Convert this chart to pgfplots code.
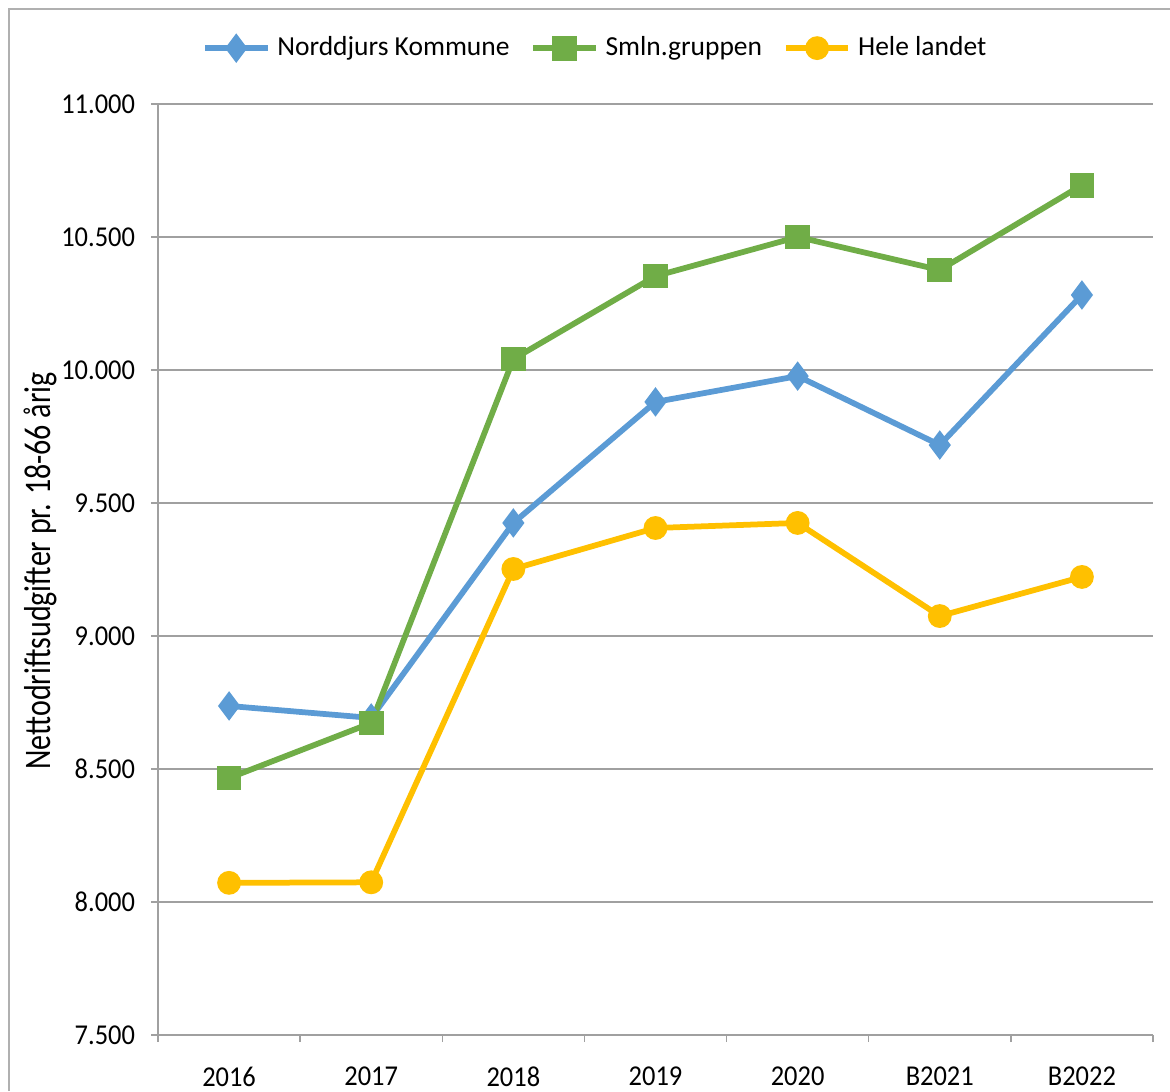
\documentclass[border=0pt]{standalone}
\usepackage{pgfplots}
\pgfplotsset{compat=1.18}
\usepackage{fontspec}
\setmainfont{Carlito}
\definecolor{cblue}{HTML}{5B9BD5}
\definecolor{cgreen}{HTML}{70AD47}
\definecolor{cgold}{HTML}{FFC000}
\definecolor{cgrid}{HTML}{A0A0A0}
\definecolor{cframe}{HTML}{B0B0B0}
\begin{document}
\begin{tikzpicture}[x=1pt,y=1pt]
\useasboundingbox (0,0) rectangle (468,436.4);
\draw[cframe, line width=0.8pt] (3.6,0) -- (3.6,432.8) -- (468,432.8);
\node[rotate=90, yscale=1.25, font=\fontsize{12}{14}\selectfont] at (16.2,208) {Nettodriftsudgifter pr. 18-66 årig};
\begin{axis}[
  at={(63.2pt,22.4pt)}, anchor=south west,
  scale only axis, width=398pt, height=372.4pt,
  xmin=-0.5, xmax=6.5, ymin=7500, ymax=11000,
  xtick={0,...,6},
  xticklabels={2016,2017,2018,2019,2020,B2021,B2022},
  minor xtick={-0.5,0.5,...,6.5},
  major x tick style={draw=none},
  minor tick length=2.8pt,
  ytick={7500,8000,...,11000},
  major tick length=2.8pt,
  tick align=outside,
  tick pos=left,
  ymajorgrids, grid style={cgrid, line width=0.6pt},
  axis line style={cgrid, line width=0.6pt},
  every tick/.style={cgrid, line width=0.6pt},
  axis x line*=bottom, axis y line*=left,
  tick label style={font=\fontsize{11.5}{13}\selectfont, text=black, xscale=0.92},
  xticklabel style={yshift=-6.6pt},
  yticklabel style={xshift=-3.4pt},
  /pgf/number format/assume math mode=true,
  /pgf/number format/.cd, 1000 sep={.}, fixed, /pgfplots/.cd,
  scaled y ticks=false,
  legend columns=3,
  legend style={at={(0.4415,1.06)}, anchor=center, draw=none, fill=none,
    font=\fontsize{11}{13}\selectfont, column sep=0pt,
    /tikz/every even column/.append style={column sep=5.6pt},
    nodes={inner xsep=2.6pt}},
  legend image code/.code={
    \draw[#1, mark=none, line width=2.6pt] (0pt,0pt) -- (25pt,0pt);
    \draw[#1, only marks] plot coordinates {(12.5pt,0pt)};
  },
]
\addplot[cblue, line width=2.3pt, mark=diamond*, mark size=4pt, mark options={solid}]
  coordinates {(0,8737) (1,8692) (2,9425) (3,9880) (4,9977) (5,9718) (6,10282)};
\addlegendentry{Norddjurs Kommune}
\addplot[cgreen, line width=2.3pt, mark=square*, mark size=3.8pt, mark options={solid}]
  coordinates {(0,8466) (1,8673) (2,10041) (3,10353) (4,10500) (5,10376) (6,10695)};
\addlegendentry{Smln.gruppen}
\addplot[cgold, line width=2.3pt, mark=*, mark size=3.6pt, mark options={solid}]
  coordinates {(0,8072) (1,8074) (2,9252) (3,9406) (4,9425) (5,9075) (6,9222)};
\addlegendentry{Hele landet}
\end{axis}
\end{tikzpicture}
\end{document}
